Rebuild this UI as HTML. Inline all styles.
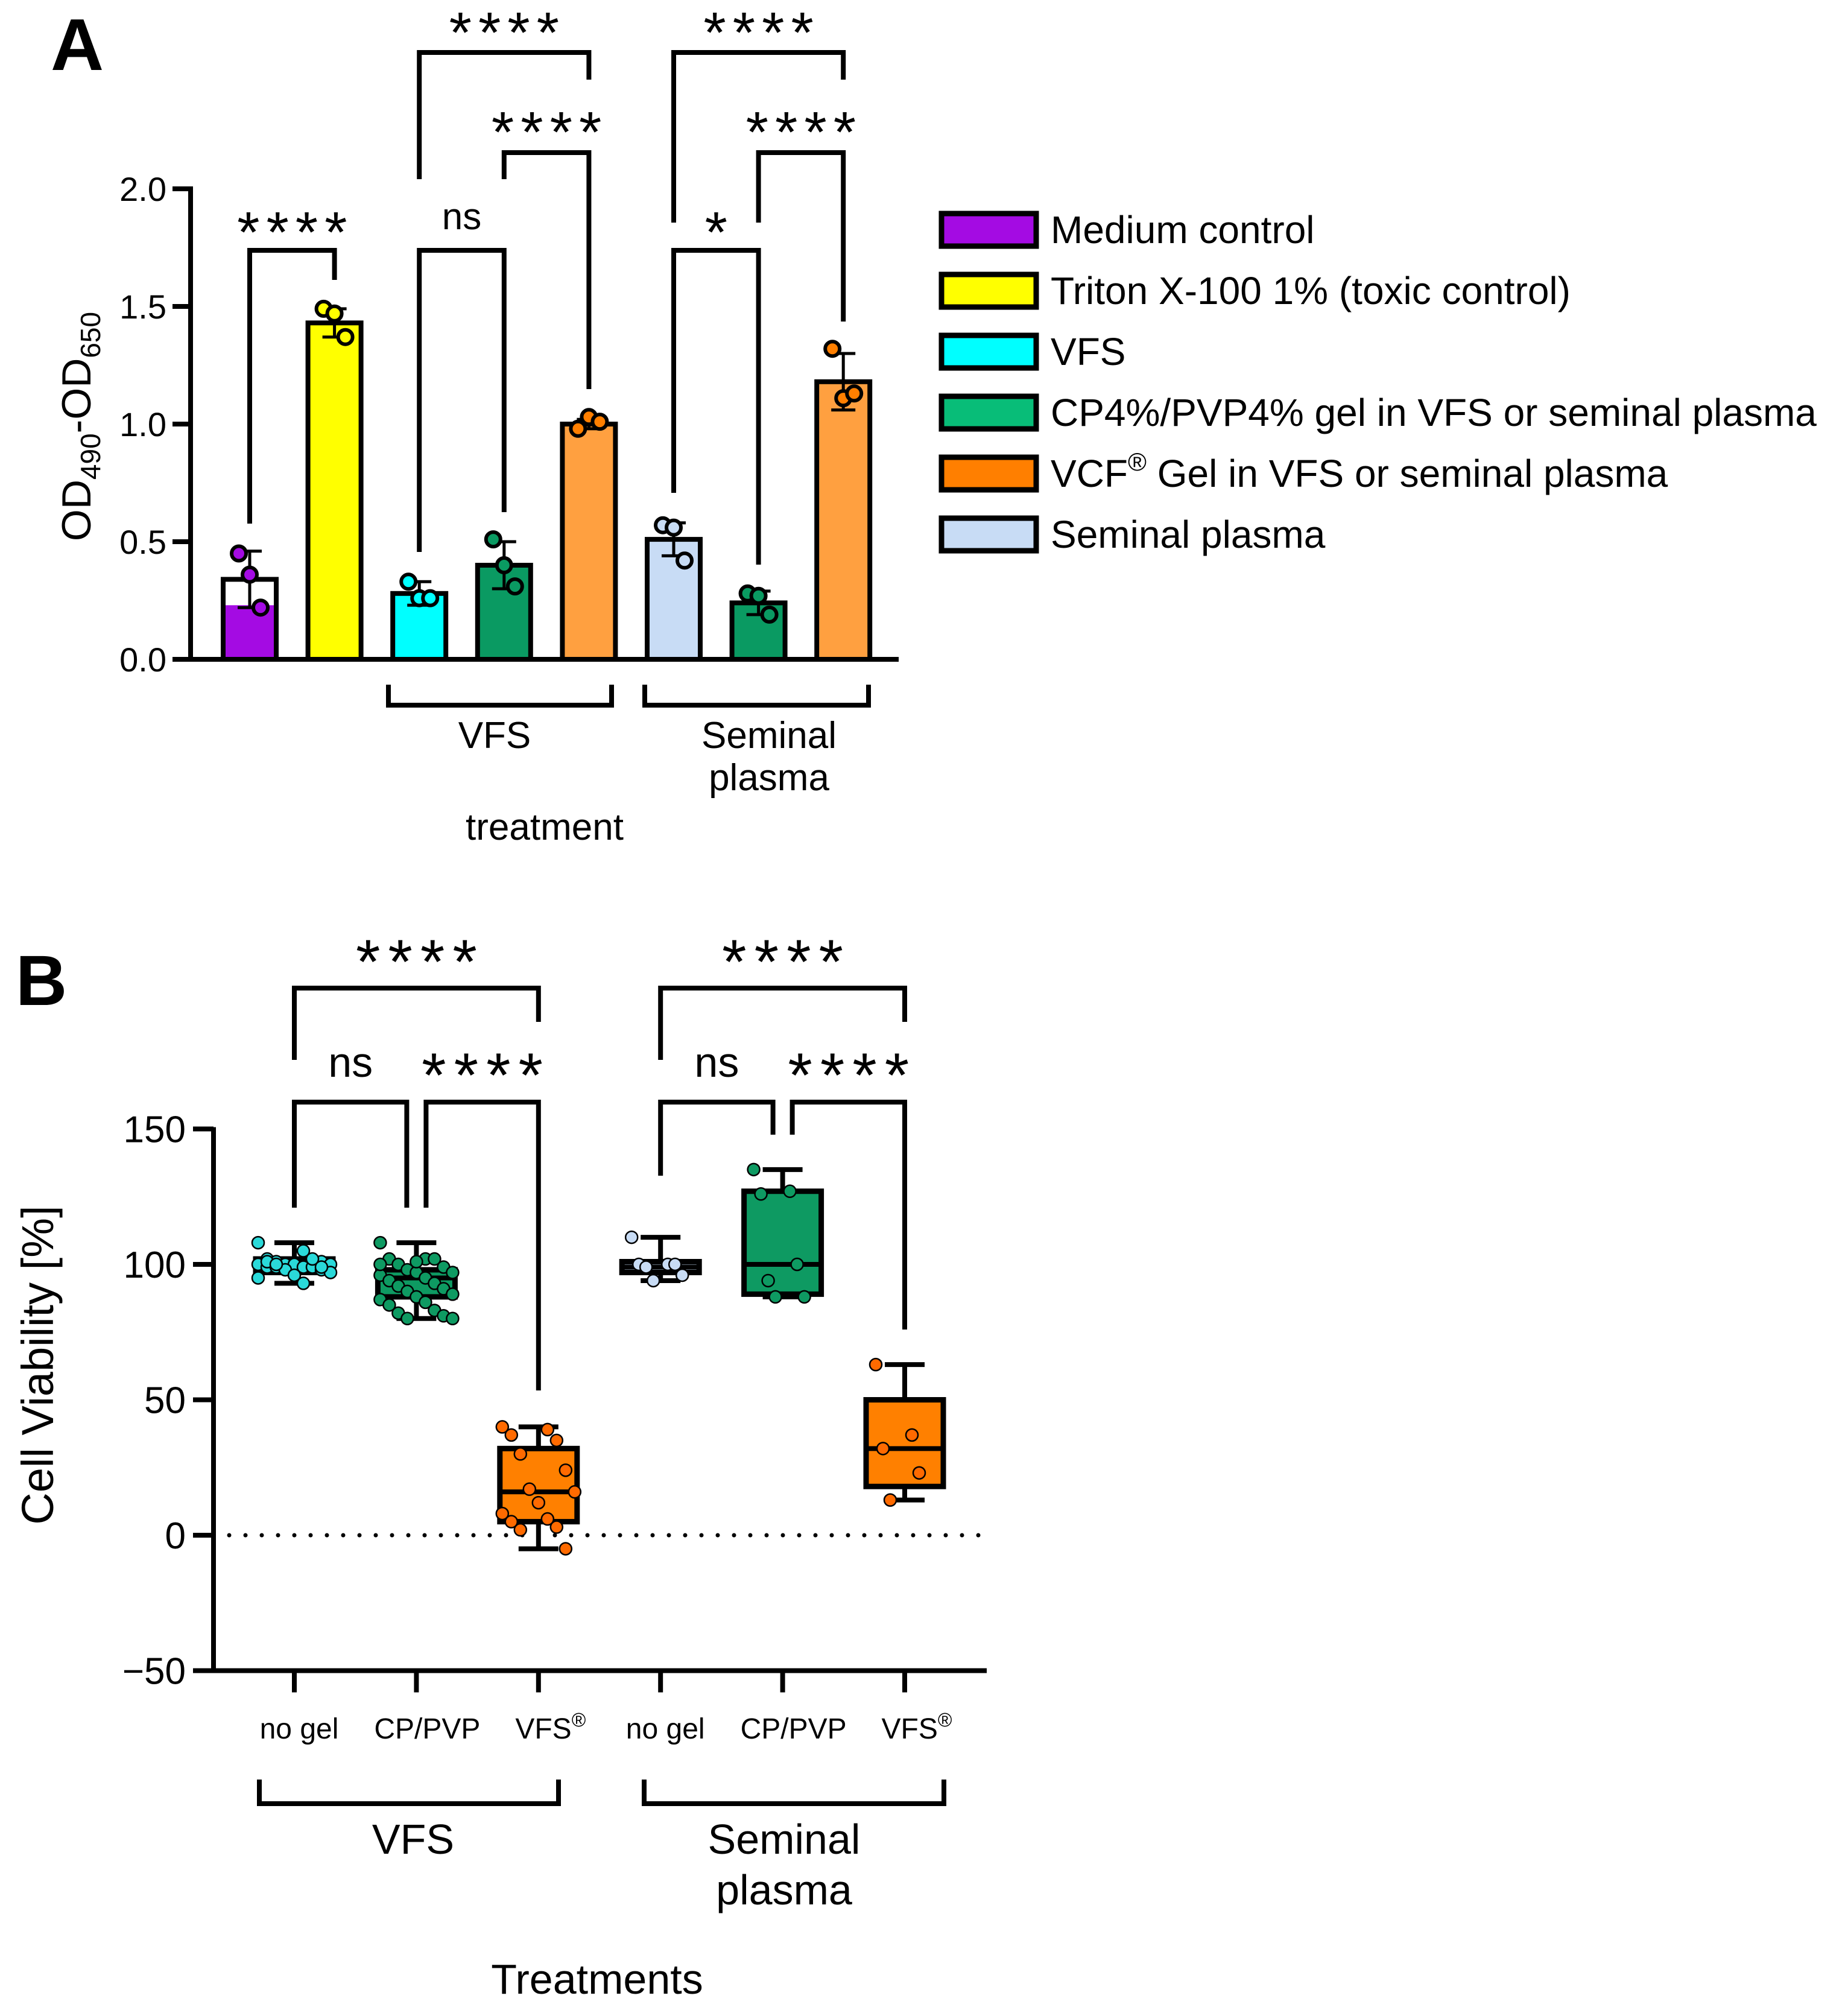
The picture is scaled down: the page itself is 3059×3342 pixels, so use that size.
<!DOCTYPE html>
<html><head><meta charset="utf-8"><style>
html,body{margin:0;padding:0;background:#fff}
svg{display:block}
text{font-family:"Liberation Sans",sans-serif;fill:#000}
</style></head><body>
<svg id="fig" width="3059" height="3342" viewBox="0 0 3059 3342" xmlns="http://www.w3.org/2000/svg">
<g id="panelA"></g>
<g id="panelB"></g>
</svg>
<script>
// ---------- Panel A data ----------
const aCategories = ["Medium control","Triton X-100 1%","VFS","CP4%/PVP4% VFS","VCF VFS","Seminal plasma","CP4%/PVP4% SP","VCF SP"];
const aMeans = [0.34,1.43,0.28,0.40,1.00,0.51,0.24,1.18];
const aSD = [0.12,0.06,0.05,0.10,0.02,0.07,0.05,0.12];
const aPoints = [[0.45,0.36,0.22],[1.49,1.47,1.37],[0.33,0.26,0.26],[0.51,0.40,0.31],[0.98,1.03,1.01],[0.57,0.56,0.42],[0.28,0.27,0.19],[1.32,1.11,1.13]];
const aTicks = [0.0,0.5,1.0,1.5,2.0];
const aTickLabels = ["0.0","0.5","1.0","1.5","2.0"];
const aColors = ["#a40be3","#ffff00","#00ffff","#0a9a62","#ffa040","#c8dcf5","#0a9a62","#ffa040"];
const aPtColors = ["#a40be3","#ffff00","#00ffff","#0a9a62","#ff7f00","#c8dcf5","#0a9a62","#ff7f00"];
const legendLabels = ["Medium control","Triton X-100 1% (toxic control)","VFS","CP4%/PVP4% gel in VFS or seminal plasma","VCF® Gel in VFS or seminal plasma","Seminal plasma"];
const legendColors = ["#a40be3","#ffff00","#00ffff","#08bd78","#ff7f00","#c8dcf5"];

// ---------- Panel B data ----------
const bCategories = ["no gel","CP/PVP","VFS®","no gel","CP/PVP","VFS®"];
const bQ1 = [97,88,5,97,89,18];
const bMedian = [100,95,16,99,100,32];
const bQ3 = [102,98,32,101,127,50];
const bMin = [93,80,-5,94,88,13];
const bMax = [108,108,40,110,135,63];
const bPts0 = [108,105,102,101,101,101,100,100,100,100,99,99,99,99,98,98,97,96,95,93,101,102,100,99];
const bPts1 = [108,102,102,102,100,99,98,97,97,96,95,94,93,92,91,90,89,88,87,86,85,83,82,81,80,80,101,100];
const bPts2 = [40,39,37,35,30,24,17,16,12,8,6,5,3,2,-5];
const bPts3 = [110,100,100,100,99,96,94];
const bPts4 = [135,127,126,100,94,88,88];
const bPts5 = [63,37,32,23,13];
const bTicks = [-50,0,50,100,150];
const bTickLabels = ["\u221250","0","50","100","150"];
const bColors = ["#2ad9d9","#0e9a62","#ff8000","#c8dcf5","#0e9a62","#ff8000"];
const bPtColors = ["#2ad9d9","#0e9a62","#ff6a00","#c8dcf5","#0e9a62","#ff6a00"];

const NS="http://www.w3.org/2000/svg";
function mk(parent,tag,attrs,txt){const e=document.createElementNS(NS,tag);for(const k in attrs)e.setAttribute(k,attrs[k]);if(txt!==undefined)e.textContent=txt;parent.appendChild(e);return e;}

// ===== Panel A =====
const A=document.getElementById('panelA');
const ay=v=>1093-v*390;
const ax=i=>414+i*140.6;
const lwA=8;
let t=mk(A,'text',{x:84,y:116,'font-size':122,'font-weight':'bold'},'A');


aMeans.forEach((m,i)=>{
  const g=mk(A,'g',{});
  
  
  const w=88,x=ax(i)-w/2;
  if(i===0){
    mk(g,'rect',{x:x,y:ay(m),width:w,height:ay(0)-ay(m),fill:'#fff'});
    const lo=Math.min(...aPoints[i]);
    mk(g,'rect',{x:x,y:ay(lo+0.01),width:w,height:ay(0)-ay(lo+0.01),fill:aColors[i]});
    mk(g,'rect',{x:x,y:ay(m),width:w,height:ay(0)-ay(m),fill:'none',stroke:'#000','stroke-width':lwA});
  } else {
    mk(g,'rect',{x:x,y:ay(m),width:w,height:ay(0)-ay(m),fill:aColors[i],stroke:'#000','stroke-width':lwA});
  }
  const cx=ax(i);
  mk(g,'line',{x1:cx,y1:ay(m+aSD[i]),x2:cx,y2:ay(m-aSD[i]),stroke:'#000','stroke-width':5});
  mk(g,'line',{x1:cx-20,y1:ay(m+aSD[i]),x2:cx+20,y2:ay(m+aSD[i]),stroke:'#000','stroke-width':5});
  mk(g,'line',{x1:cx-20,y1:ay(m-aSD[i]),x2:cx+20,y2:ay(m-aSD[i]),stroke:'#000','stroke-width':5});
  const offs=[-20,0,20];
  aPoints[i].forEach((v,k)=>{
    const c=mk(g,'circle',{cx:cx+(i%2?offs[k]:-offs[2-k])*0.9,cy:ay(v),r:12,fill:aPtColors[i],stroke:'#000','stroke-width':6});
    
    
  });
});
const yaxA=mk(A,'g',{});


mk(yaxA,'line',{x1:316,y1:ay(2)-4,x2:316,y2:ay(0)+4,stroke:'#000','stroke-width':lwA});
mk(yaxA,'line',{x1:286,y1:ay(0),x2:1490,y2:ay(0),stroke:'#000','stroke-width':lwA});
aTicks.forEach((v,i)=>{
  mk(yaxA,'line',{x1:286,y1:ay(v),x2:316,y2:ay(v),stroke:'#000','stroke-width':lwA});
  const tl=mk(yaxA,'text',{x:276,y:ay(v)+20,'font-size':56,'text-anchor':'end'},aTickLabels[i]);
  
  
});
t=mk(A,'text',{transform:'translate(150,707) rotate(-90)','font-size':68,'text-anchor':'middle'});


t.innerHTML='OD<tspan font-size="46" dy="16">490</tspan><tspan dy="-16">-OD</tspan><tspan font-size="46" dy="16">650</tspan>';
function groupBracket(P,x1,x2,y1,y2,lw,name){const p=mk(P,'path',{d:`M${x1} ${y1} V${y2} H${x2} V${y1}`,fill:'none',stroke:'#000','stroke-width':lw});}
groupBracket(A,644,1014,1135,1169,lwA,'group-bracket-vfs');
groupBracket(A,1069,1440,1135,1169,lwA,'group-bracket-seminal');
t=mk(A,'text',{x:820,y:1240,'font-size':62,'text-anchor':'middle'},'VFS');

t=mk(A,'text',{x:1275,y:1240,'font-size':62,'text-anchor':'middle'},'Seminal');

t=mk(A,'text',{x:1275,y:1310,'font-size':62,'text-anchor':'middle'},'plasma');

t=mk(A,'text',{x:903,y:1392,'font-size':62,'text-anchor':'middle'},'treatment');

function sig(P,x1,x2,yTop,yl,yr,lw,label,fs,ls,lblY,name){
  const p=mk(P,'path',{d:`M${x1} ${yl} V${yTop} H${x2} V${yr}`,fill:'none',stroke:'#000','stroke-width':lw});
  
  const tx=mk(P,'text',{x:(x1+x2)/2+ls/2,y:lblY,'font-size':fs,'text-anchor':'middle','letter-spacing':ls},label);
  
}
sig(A,ax(0),ax(1),415,868,464,lwA,'****',96,11,418,'sig-medium-triton');
sig(A,ax(2),ax(3),415,915,849,lwA,'ns',62,0,380,'sig-vfs-cp');
sig(A,ax(3),ax(4),253,297,645,lwA,'****',96,11,252,'sig-cp-vcf-vfs');
sig(A,ax(2),ax(4),87,297,132,lwA,'****',96,11,87,'sig-vfs-vcf');
sig(A,ax(5),ax(6),415,817,936,lwA,'*',96,0,418,'sig-sp-cp');
sig(A,ax(6),ax(7),253,369,533,lwA,'****',96,11,252,'sig-cp-vcf-sp');
sig(A,ax(5),ax(7),87,369,132,lwA,'****',96,11,87,'sig-sp-vcf');
legendLabels.forEach((lab,i)=>{
  const g=mk(A,'g',{});
  
  
  const cy=381+i*101;
  mk(g,'rect',{x:1561,y:cy-27,width:157,height:54,fill:legendColors[i],stroke:'#000','stroke-width':9});
  const tx=mk(g,'text',{x:1742,y:cy+22,'font-size':64},'');
  if(lab.indexOf('®')>=0){tx.innerHTML='VCF<tspan font-size="42" dy="-27">®</tspan><tspan dy="27"> Gel in VFS or seminal plasma</tspan>';}
  else tx.textContent=lab;
});

// ===== Panel B =====
const B=document.getElementById('panelB');
const by=v=>2545-v*4.49;
const bx=i=>488+i*202.4;
const lwB=8;
t=mk(B,'text',{x:26,y:1666,'font-size':118,'font-weight':'bold'},'B');

const zl=mk(B,'line',{x1:380,y1:by(0),x2:1636,y2:by(0),stroke:'#000','stroke-width':7,'stroke-dasharray':'0 27','stroke-linecap':'round'});

const bPts=[bPts0,bPts1,bPts2,bPts3,bPts4,bPts5];
bCategories.forEach((c,i)=>{
  const g=mk(B,'g',{});
  
  
  const cx=bx(i),w=128;
  mk(g,'line',{x1:cx,y1:by(bMax[i]),x2:cx,y2:by(bMin[i]),stroke:'#000','stroke-width':lwB});
  mk(g,'line',{x1:cx-33,y1:by(bMax[i]),x2:cx+33,y2:by(bMax[i]),stroke:'#000','stroke-width':lwB});
  mk(g,'line',{x1:cx-33,y1:by(bMin[i]),x2:cx+33,y2:by(bMin[i]),stroke:'#000','stroke-width':lwB});
  mk(g,'rect',{x:cx-w/2,y:by(bQ3[i]),width:w,height:by(bQ1[i])-by(bQ3[i]),fill:bColors[i],stroke:'#000','stroke-width':lwB+1});
  mk(g,'line',{x1:cx-w/2,y1:by(bMedian[i]),x2:cx+w/2,y2:by(bMedian[i]),stroke:'#000','stroke-width':lwB});
  const pts=bPts[i];
  pts.forEach((v,k)=>{
    const off=((k*5)%9-4)*(pts.length>10?15:12);
    const p=mk(g,'circle',{cx:cx+off,cy:by(v),r:10,fill:bPtColors[i],stroke:'#000','stroke-width':2.5});
    
    
  });
});
const yaxB=mk(B,'g',{});

mk(yaxB,'line',{x1:354,y1:by(150)-3,x2:354,y2:by(-50)+3,stroke:'#000','stroke-width':lwB});
mk(yaxB,'line',{x1:320,y1:by(-50),x2:1636,y2:by(-50),stroke:'#000','stroke-width':lwB});
bTicks.forEach((v,i)=>{
  mk(yaxB,'line',{x1:320,y1:by(v),x2:354,y2:by(v),stroke:'#000','stroke-width':lwB});
  const tl=mk(yaxB,'text',{x:308,y:by(v)+22,'font-size':62,'text-anchor':'end'},bTickLabels[i]);
  
});
bCategories.forEach((c,i)=>{
  mk(yaxB,'line',{x1:bx(i),y1:by(-50),x2:bx(i),y2:by(-50)+36,stroke:'#000','stroke-width':lwB});
  const tl=mk(B,'text',{x:bx(i)+(i%3===0?8:(i%3===1?18:20)),y:2882,'font-size':48,'text-anchor':'middle'},'');
  if(c.indexOf('®')>=0) tl.innerHTML='VFS<tspan font-size="32" dy="-20">®</tspan>'; else tl.textContent=c;
  
});
t=mk(B,'text',{transform:'translate(88,2263) rotate(-90)','font-size':74,'text-anchor':'middle'},'Cell Viability [%]');

groupBracket(B,430,926,2950,2990,lwB,'group-bracket-vfs-b');
groupBracket(B,1068,1565,2950,2990,lwB,'group-bracket-seminal-b');
t=mk(B,'text',{x:685,y:3073,'font-size':70,'text-anchor':'middle'},'VFS');

t=mk(B,'text',{x:1300,y:3073,'font-size':70,'text-anchor':'middle'},'Seminal');

t=mk(B,'text',{x:1300,y:3157,'font-size':70,'text-anchor':'middle'},'plasma');

t=mk(B,'text',{x:990,y:3305,'font-size':70,'text-anchor':'middle'},'Treatments');

sig(B,bx(0),bx(2),1638,1757,1694,lwB,'****',104,13,1630,'sig-b-vfs-nogel-vfsr');
sig(B,bx(0),bx(1)-16,1827,2002,2002,lwB,'ns',70,0,1785,'sig-b-vfs-nogel-cp');
sig(B,bx(1)+16,bx(2),1827,2002,2305,lwB,'****',104,13,1818,'sig-b-vfs-cp-vfsr');
sig(B,bx(3),bx(5),1638,1757,1694,lwB,'****',104,13,1630,'sig-b-sp-nogel-vfsr');
sig(B,bx(3),bx(4)-16,1827,1949,1881,lwB,'ns',70,0,1785,'sig-b-sp-nogel-cp');
sig(B,bx(4)+16,bx(5),1827,1881,2204,lwB,'****',104,13,1818,'sig-b-sp-cp-vfsr');
</script>
</body></html>
